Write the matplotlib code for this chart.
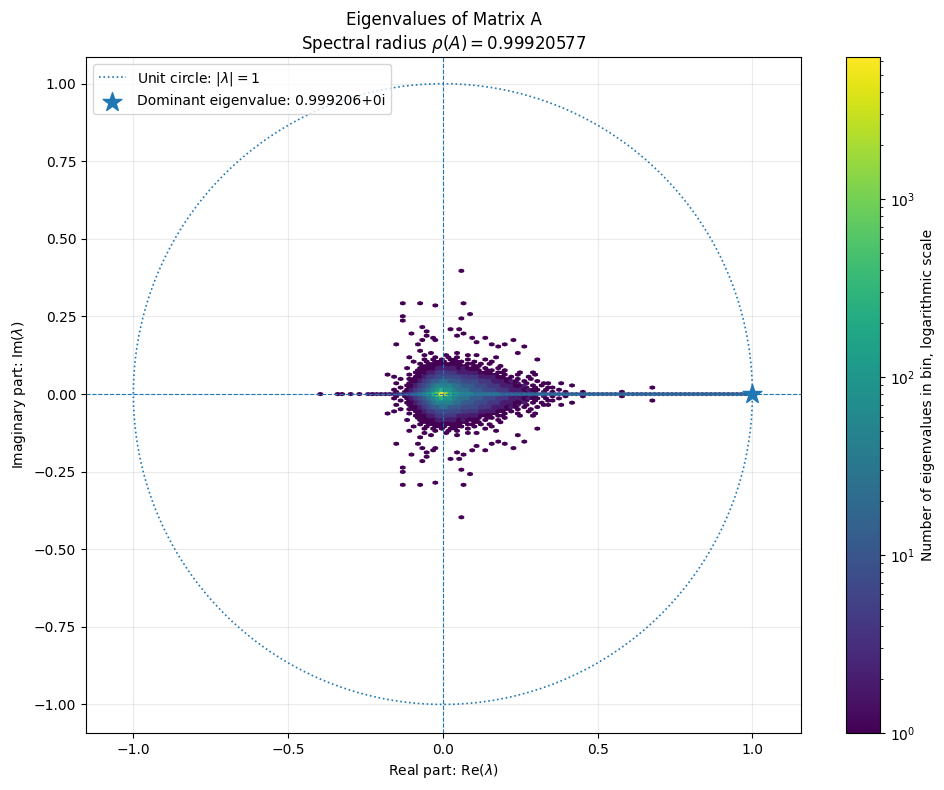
import numpy as np
import matplotlib
matplotlib.use('Agg')
import matplotlib.pyplot as plt

# spectral info shown in title / legend
spectral_radius = 0.99920577
dominant_re = 0.999206
dominant_im = 0.0

# extent of the eigenvalue cloud (this fixes the hex grid)
re_min, re_max = -0.403, 0.999206
im_min, im_max = -0.397, 0.397
grid_n = 100

# eigenvalues per hex for each symbol
level_counts = {'1': 1, '2': 2, '3': 4, '4': 7, '5': 12, '6': 25, '7': 50,
                '8': 100, '9': 250, 'A': 600, 'B': 1500, 'X': 6280}

# real eigenvalues: one symbol per hex along Im = 0, hex 0..99 left to right
real_axis_row = ("1...11.1.1" ".212222233" "3456789AXB" "9887776666"
                 "6655555555" "5555555555" "5555555555" "5555555555"
                 "5555555555" "5555555555")

# upper half of the dense cloud, one string per half-row going up from Im = 0
# (conjugates mirrored below); first column is hex 16 (Re ~ -0.18)
cloud_col0 = 16
cloud_rows = [
    "..1.123456" "79A9877666" "5554443332" "22121.1.1",
    ".1..123456" "7898876665" "5544433322" "21211.1..",
    "...1.12345" "6788776655" "5444333222" "121.1..1.",
    "....112345" "6777766555" "4443332221" "12.1.1...",
    "..1..12344" "5666665554" "4433322211" "2.1...1..",
    ".....11234" "5566555444" "4333222121" ".1..1....",
    "...1.11233" "4555554443" "333222111." "1..1.....",
    "......1123" "3444444333" "3222211.1." "..1......",
    ".....1.122" "3344433332" "222111.1.." "1........",
    "......1112" "2333332222" "2111.11..." "...1.....",
    ".......111" "2233222221" "11.11..1.." ".........",
    "....1..111" "1222221211" "1.1..1...." ".........",
    "........11" "112212111." "11....1..." ".........",
    ".......1.1" "1111111.11" ".1.1......" ".........",
    "......1..1" ".111.111.." "1...1....." ".........",
    "........1." "1.1.11..1." "..1......." ".........",
    ".....1...." ".1..1.1..." ".....1...." ".........",
    "........1." "...1....1." "1........." ".........",
    ".........." "1.....1..." ".........." ".........",
    ".......1.." ".........." ".........." ".........",
]

# scattered single eigenvalues in the upper half plane (mirrored below)
outlier_re = [0.057, -0.133, -0.073, -0.020, 0.064, 0.092, 0.059, -0.129, -0.129, -0.067,
              -0.100, -0.052, 0.022, 0.050, 0.068, -0.048, -0.035, -0.030, 0.040, 0.096,
              0.134, -0.068, -0.147, -0.080, 0.110, 0.162, 0.176, 0.193, 0.222, 0.270,
              0.246, 0.308, -0.173, -0.155, 0.247, 0.301, 0.344, 0.382, 0.411, 0.457,
              0.583, 0.676, 0.333, 0.400, 0.350, 0.370]
outlier_im = [0.395, 0.293, 0.297, 0.283, 0.293, 0.257, 0.242, 0.252, 0.241, 0.220,
              0.198, 0.206, 0.206, 0.206, 0.198, 0.190, 0.180, 0.172, 0.187, 0.179,
              0.179, 0.174, 0.161, 0.161, 0.166, 0.161, 0.155, 0.161, 0.174, 0.155,
              0.132, 0.110, 0.062, 0.052, 0.068, 0.062, 0.035, 0.038, 0.030, 0.010,
              0.008, 0.024, 0.008, 0.008, 0.020, 0.014]

# hex lattice spacing (same rule as matplotlib's hexbin)
ny = int(grid_n / np.sqrt(3))
sx = (re_max - re_min) / grid_n
sy = (im_max - im_min) / ny

re_vals, im_vals, cnt_vals = [], [], []

for i, ch in enumerate(real_axis_row):
    if ch != '.':
        re_vals.append(re_min + (i + 0.5) * sx)
        im_vals.append(0.0)
        cnt_vals.append(level_counts[ch])

for h, row in enumerate(cloud_rows, start=1):
    shift = 0.5 if h % 2 == 0 else 0.0
    for c, ch in enumerate(row):
        if ch == '.':
            continue
        re = re_min + (cloud_col0 + c + shift) * sx
        for sign in (1, -1):
            re_vals.append(re)
            im_vals.append(sign * h * sy / 2)
            cnt_vals.append(level_counts[ch])

for re, im in zip(outlier_re, outlier_im):
    for sign in (1, -1):
        re_vals.append(re)
        im_vals.append(sign * im)
        cnt_vals.append(1)

fig = plt.figure(figsize=(9.44, 7.9), dpi=100)
ax = fig.add_axes([86 / 944, 57 / 790, 715 / 944, 676 / 790])
cax = fig.add_axes([846 / 944, 57 / 790, 34 / 944, 676 / 790])

hb = ax.hexbin(re_vals, im_vals, C=cnt_vals, reduce_C_function=np.sum,
               gridsize=grid_n, bins='log', cmap='viridis', mincnt=1,
               extent=(re_min, re_max, im_min, im_max), zorder=2)

theta = np.linspace(0, 2 * np.pi, 600)
ax.plot(np.cos(theta), np.sin(theta), linestyle=':', color='C0', linewidth=1.2,
        label=r'Unit circle: $|\lambda| = 1$', zorder=3)
ax.axhline(0, color='C0', linestyle='--', linewidth=0.8, zorder=3)
ax.axvline(0, color='C0', linestyle='--', linewidth=0.8, zorder=3)
ax.scatter([dominant_re], [dominant_im], marker='*', s=200, color='C0', zorder=5,
           label=f'Dominant eigenvalue: {dominant_re:.6f}+0i')

ax.set_xlim(-1.153, 1.157)
ax.set_ylim(-1.092, 1.086)
ax.grid(True, alpha=0.25, zorder=0)
ax.set_axisbelow(True)
ax.set_xlabel(r'Real part: Re($\lambda$)')
ax.set_ylabel(r'Imaginary part: Im($\lambda$)')
ax.set_title('Eigenvalues of Matrix A\n' + r'Spectral radius $\rho(A) = $' + f'{spectral_radius:.8f}')
ax.legend(loc='upper left')

cb = fig.colorbar(hb, cax=cax)
cb.set_label('Number of eigenvalues in bin, logarithmic scale')

fig.savefig('out.png', dpi=100)
